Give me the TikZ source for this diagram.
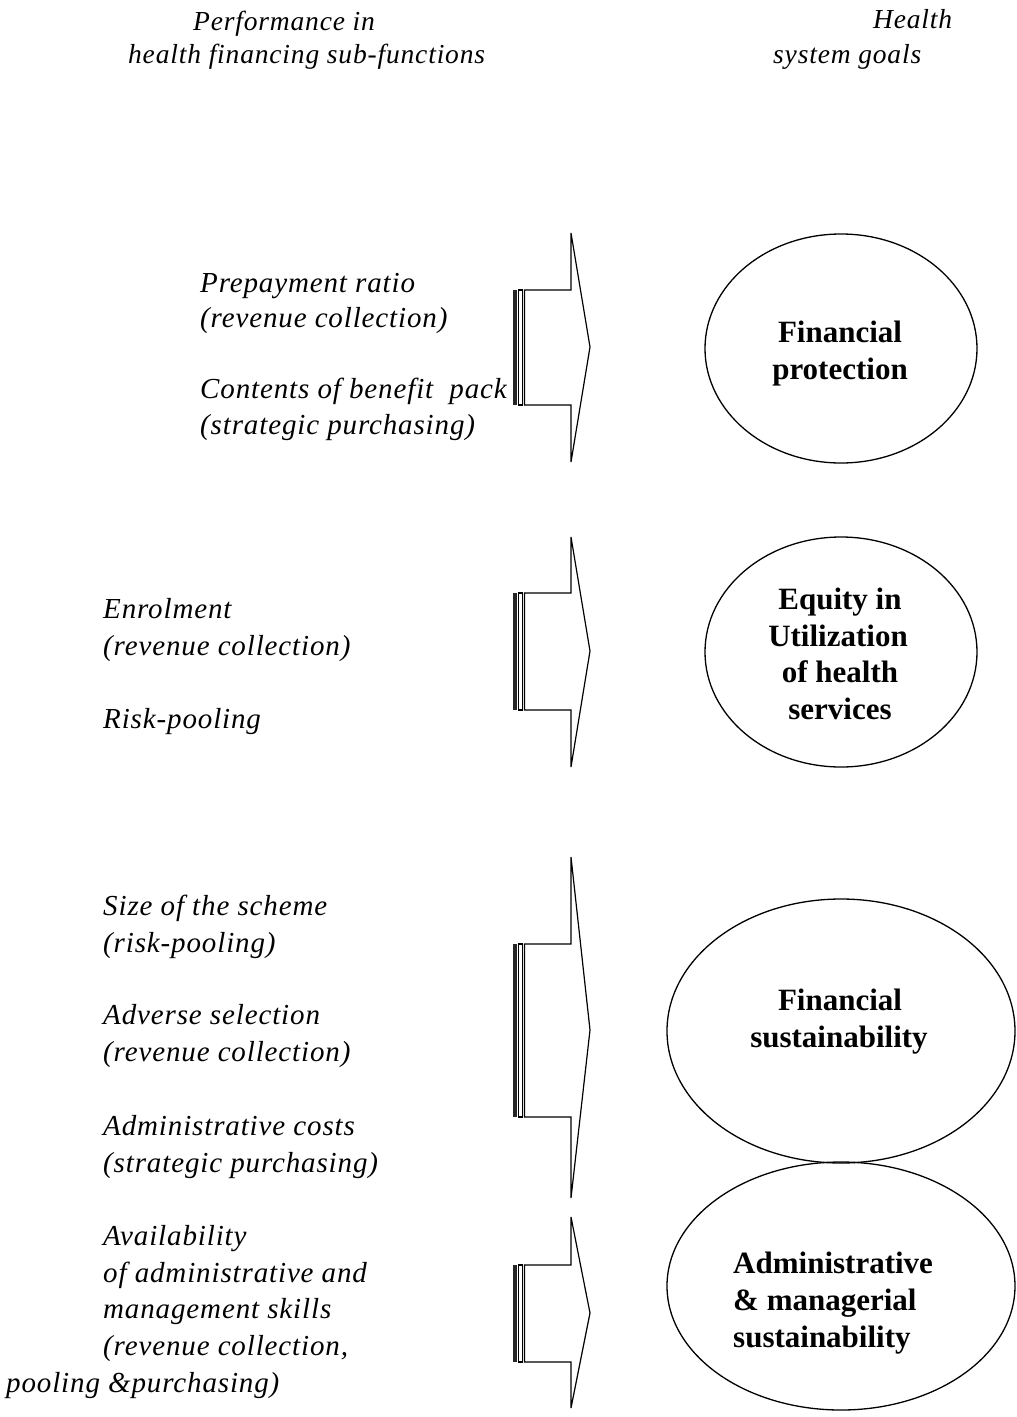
\documentclass[tikz,border=0pt]{standalone}
\usetikzlibrary{shapes.geometric}
\usepackage{fontspec}
\setmainfont{Liberation Serif}
\newfontfamily\itfam[LetterSpace=3]{Liberation Serif Italic}
\newfontfamily\bffam{Liberation Serif Bold}
\newcommand\stripearrow[5]{%
  \fill[black!85] (512.5,#1) rectangle (516.5,#2);
  \draw[arrline, fill=white] (518.5,#1) rectangle (522.5,#2);
  \draw[arrline, fill=white] (524.5,#1) -- (571,#1) -- (571,#3) -- (590,#5)
     -- (571,#4) -- (571,#2) -- (524.5,#2) -- cycle;}
\begin{document}
\begin{tikzpicture}[x=1pt,y=-1pt,
  itx/.style={inner sep=0pt, anchor=base west, font=\itfam\fontsize{29}{34}\selectfont},
  hdx/.style={inner sep=0pt, anchor=base west, font=\itfam\fontsize{27.5}{33}\selectfont},
  bfx/.style={inner sep=0pt, anchor=base, font=\bffam\fontsize{31}{37}\selectfont},
  bfl/.style={inner sep=0pt, anchor=base west, font=\bffam\fontsize{31}{37}\selectfont},
  goal/.style={draw, line width=1.3pt, ellipse, inner sep=0pt},
  arrline/.style={draw, line width=1.2pt, line join=miter},
]
\useasboundingbox (0,0) rectangle (1017,1417);
% header
\node[hdx] (h1) at (193,30) {Performance in};
\node[hdx] (h2) at (128,63) {health financing sub-functions};
\node[hdx] (h3) at (873,28) {Health};
\node[hdx] (h4) at (773,63) {system goals};
% group 1
\node[itx] (a1) at (200,292) {Prepayment ratio};
\node[itx] (a2) at (200,327) {(revenue collection)};
\node[itx] (a3) at (200,398) {Contents of benefit \ pack};
\node[itx] (a4) at (200,434) {(strategic purchasing)};
% group 2
\node[itx] (b1) at (103,618) {Enrolment};
\node[itx] (b2) at (103,655) {(revenue collection)};
\node[itx] (b3) at (103,728) {Risk-pooling};
% group 3
\node[itx] (c1) at (103,915) {Size of the scheme};
\node[itx] (c2) at (103,952) {(risk-pooling)};
\node[itx] (c3) at (103,1024) {Adverse selection};
\node[itx] (c4) at (103,1061) {(revenue collection)};
\node[itx] (c5) at (103,1135) {Administrative costs};
\node[itx] (c6) at (103,1172) {(strategic purchasing)};
\node[itx] (c7) at (103,1245) {Availability};
\node[itx] (c8) at (103,1282) {of administrative and};
\node[itx] (c9) at (103,1318) {management skills};
\node[itx] (c10) at (103,1355) {(revenue collection,};
\node[itx] (c11) at (6,1392) {pooling \&purchasing)};
% arrows
\stripearrow{290}{405}{233}{462}{347}
\stripearrow{593}{710}{537}{767}{651}
\stripearrow{944}{1117}{857}{1198}{1030}
\stripearrow{1265}{1362}{1217}{1408}{1313}
% goals
\node[goal, minimum width=272pt, minimum height=229pt] (g1) at (841,348.5) {};
\node[goal, minimum width=272pt, minimum height=230pt] (g2) at (841,652) {};
\node[goal, minimum width=348pt, minimum height=264pt] (g3) at (841,1031) {};
\node[goal, minimum width=348pt, minimum height=248pt] (g4) at (841,1286) {};
\node[bfx] (g1a) at (840,342) {Financial};
\node[bfx] (g1b) at (840,379) {protection};
\node[bfx] (g2a) at (840,609) {Equity in};
\node[bfx] (g2b) at (838,646) {Utilization};
\node[bfx] (g2c) at (840,682) {of health};
\node[bfx] (g2d) at (840,719) {services};
\node[bfx] (g3a) at (840,1010) {Financial};
\node[bfx] (g3b) at (839,1047) {sustainability};
\node[bfl] (g4a) at (733,1273) {Administrative};
\node[bfl] (g4b) at (733,1310) {\& managerial};
\node[bfl] (g4c) at (733,1347) {sustainability};
\end{tikzpicture}
\end{document}
